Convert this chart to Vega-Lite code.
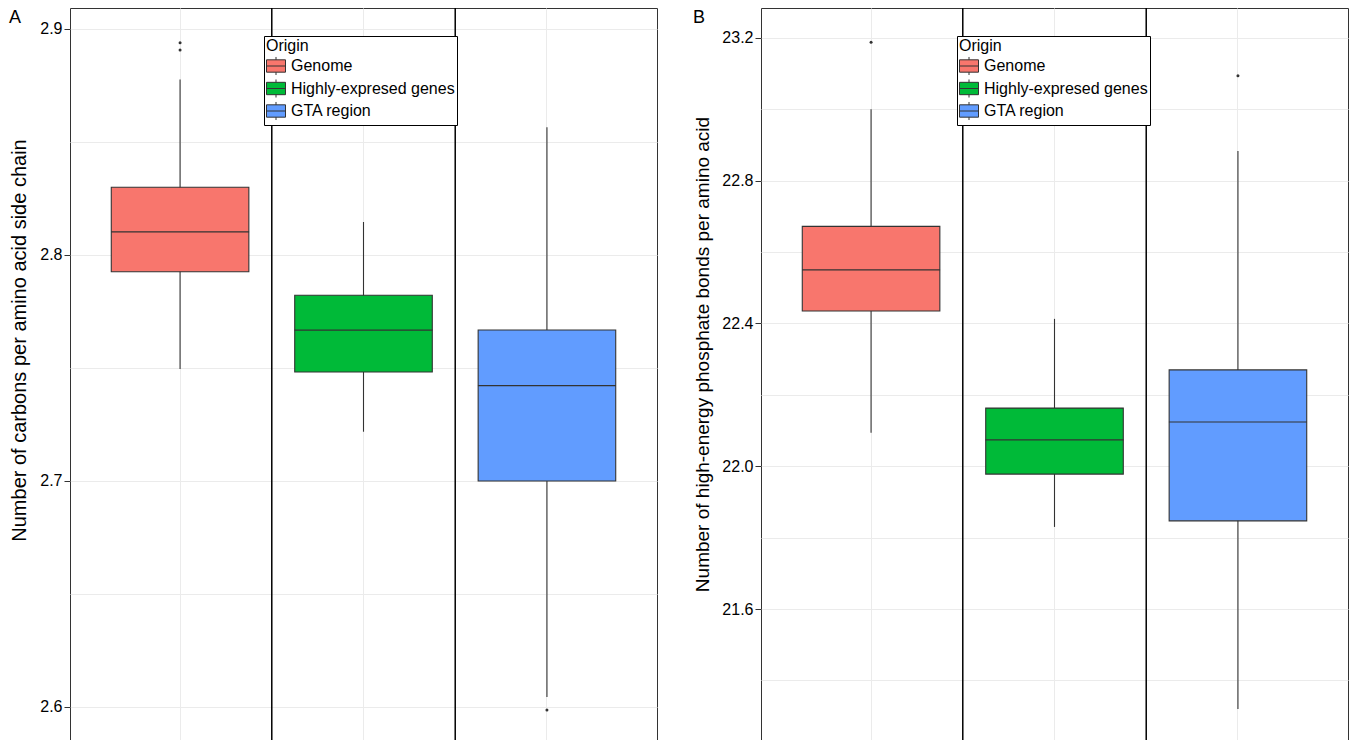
{
  "$schema": "https://vega.github.io/schema/vega-lite/v6.json",
  "padding": {"left": 8, "top": 6, "right": 0, "bottom": 0},
  "spacing": 34,
  "config": {
    "font": "Liberation Sans",
    "view": {"stroke": "#333333", "strokeWidth": 1},
    "axis": {
      "labelFontSize": 16,
      "labelColor": "#000000",
      "titleFontSize": 19,
      "titleFontWeight": "normal",
      "titleColor": "#000000",
      "tickColor": "#333333",
      "tickSize": 6,
      "labelPadding": 2,
      "gridColor": "#EBEBEB",
      "gridWidth": 1,
      "domain": false
    },
    "legend": {
      "orient": "none",
      "strokeColor": "#000000",
      "fillColor": "#FFFFFF",
      "padding": 2,
      "titleFontSize": 16,
      "titleFontWeight": "normal",
      "titleColor": "#000000",
      "titlePadding": 2,
      "labelFontSize": 16,
      "labelColor": "#000000",
      "labelOffset": 5,
      "labelLimit": 400,
      "rowPadding": -1.5,
      "symbolType": "M-1,-0.65H1V0.65H-1Z M-1,0H1 M0,-0.65V-0.95 M0,0.65V0.95",
      "symbolSize": 361,
      "symbolStrokeColor": "#333333",
      "symbolStrokeWidth": 1,
      "symbolOpacity": 1
    },
    "title": {"fontSize": 18, "fontWeight": "normal", "color": "#000000"}
  },
  "datasets": {
    "boxesA": [
      {"origin": "Genome", "lower": 2.7496, "q1": 2.7926, "median": 2.8102, "q3": 2.8300, "upper": 2.8777},
      {"origin": "Highly-expresed genes", "lower": 2.7218, "q1": 2.7482, "median": 2.7668, "q3": 2.7822, "upper": 2.8146},
      {"origin": "GTA region", "lower": 2.6044, "q1": 2.7000, "median": 2.7422, "q3": 2.7668, "upper": 2.8565}
    ],
    "outliersA": [
      {"origin": "Genome", "value": 2.8939},
      {"origin": "Genome", "value": 2.8907},
      {"origin": "GTA region", "value": 2.5987}
    ],
    "boxesB": [
      {"origin": "Genome", "lower": 22.094, "q1": 22.435, "median": 22.550, "q3": 22.672, "upper": 23.000},
      {"origin": "Highly-expresed genes", "lower": 21.830, "q1": 21.978, "median": 22.074, "q3": 22.163, "upper": 22.413},
      {"origin": "GTA region", "lower": 21.320, "q1": 21.847, "median": 22.124, "q3": 22.270, "upper": 22.883}
    ],
    "outliersB": [
      {"origin": "Genome", "value": 23.188},
      {"origin": "GTA region", "value": 23.094}
    ],
    "dividers": [
      {"origin": "Genome"},
      {"origin": "Highly-expresed genes"}
    ]
  },
  "resolve": {"legend": {"fill": "independent"}, "scale": {"y": "independent"}},
  "hconcat": [
    {
      "title": {"text": "A", "anchor": "start", "frame": "bounds", "baseline": "alphabetic", "offset": -34},
      "width": 587,
      "height": 735,
      "encoding": {
        "x": {
          "field": "origin",
          "type": "nominal",
          "sort": ["Genome", "Highly-expresed genes", "GTA region"],
          "scale": {"domain": ["Genome", "Highly-expresed genes", "GTA region"], "paddingInner": 0, "paddingOuter": 0.1},
          "axis": {"grid": true, "labels": false, "ticks": false, "domain": false, "title": null, "bandPosition": 0.5}
        }
      },
      "layer": [
        {
          "data": {"name": "dividers"},
          "mark": {"type": "rule", "color": "#000000", "strokeWidth": 1.5},
          "encoding": {"x": {"field": "origin", "type": "nominal", "bandPosition": 1}}
        },
        {
          "data": {"name": "boxesA"},
          "mark": {"type": "rule", "color": "#333333", "strokeWidth": 1.1},
          "encoding": {
            "y": {
              "field": "lower",
              "type": "quantitative",
              "scale": {"domain": [2.58407, 2.90929], "nice": false, "zero": false},
              "axis": {
                "title": "Number of carbons per amino acid side chain",
                "titleFontSize": 20,
                "values": [2.6, 2.65, 2.7, 2.75, 2.8, 2.85, 2.9],
                "labelExpr": "round(datum.value * 100) % 10 == 0 ? format(datum.value, '.1f') : ''",
                "tickOpacity": {"condition": {"test": "round(datum.value * 100) % 10 == 0", "value": 1}, "value": 0},
                "grid": true,
                "minExtent": 30,
                "maxExtent": 30,
                "titlePadding": 11,
                "titleY": 332
              }
            },
            "y2": {"field": "upper"}
          }
        },
        {
          "data": {"name": "boxesA"},
          "mark": {"type": "bar", "stroke": "#333333", "strokeWidth": 1.1, "width": {"band": 0.75}},
          "encoding": {
            "y": {"field": "q1", "type": "quantitative"},
            "y2": {"field": "q3"},
            "fill": {
              "field": "origin",
              "type": "nominal",
              "title": "Origin",
              "scale": {"domain": ["Genome", "Highly-expresed genes", "GTA region"], "range": ["#F8766D", "#00BA38", "#619CFF"]},
              "legend": {"legendX": 194, "legendY": 28}
            }
          }
        },
        {
          "data": {"name": "boxesA"},
          "mark": {"type": "tick", "color": "#333333", "thickness": 1.2, "size": 138, "opacity": 1},
          "encoding": {"y": {"field": "median", "type": "quantitative"}}
        },
        {
          "data": {"name": "outliersA"},
          "mark": {"type": "circle", "color": "#333333", "size": 9, "opacity": 1},
          "encoding": {"y": {"field": "value", "type": "quantitative"}}
        }
      ]
    },
    {
      "title": {"text": "B", "anchor": "start", "frame": "bounds", "baseline": "alphabetic", "offset": -34},
      "width": 587,
      "height": 735,
      "encoding": {
        "x": {
          "field": "origin",
          "type": "nominal",
          "sort": ["Genome", "Highly-expresed genes", "GTA region"],
          "scale": {"domain": ["Genome", "Highly-expresed genes", "GTA region"], "paddingInner": 0, "paddingOuter": 0.1},
          "axis": {"grid": true, "labels": false, "ticks": false, "domain": false, "title": null, "bandPosition": 0.5}
        }
      },
      "layer": [
        {
          "data": {"name": "dividers"},
          "mark": {"type": "rule", "color": "#000000", "strokeWidth": 1.5},
          "encoding": {"x": {"field": "origin", "type": "nominal", "bandPosition": 1}}
        },
        {
          "data": {"name": "boxesB"},
          "mark": {"type": "rule", "color": "#333333", "strokeWidth": 1.1},
          "encoding": {
            "y": {
              "field": "lower",
              "type": "quantitative",
              "scale": {"domain": [21.2246, 23.284], "nice": false, "zero": false},
              "axis": {
                "title": "Number of high-energy phosphate bonds per amino acid",
                "values": [21.4, 21.6, 21.8, 22.0, 22.2, 22.4, 22.6, 22.8, 23.0, 23.2],
                "labelExpr": "round(datum.value * 10) % 4 == 0 ? format(datum.value, '.1f') : ''",
                "tickOpacity": {"condition": {"test": "round(datum.value * 10) % 4 == 0", "value": 1}, "value": 0},
                "grid": true,
                "minExtent": 39,
                "maxExtent": 39,
                "titlePadding": 10,
                "titleY": 346
              }
            },
            "y2": {"field": "upper"}
          }
        },
        {
          "data": {"name": "boxesB"},
          "mark": {"type": "bar", "stroke": "#333333", "strokeWidth": 1.1, "width": {"band": 0.75}},
          "encoding": {
            "y": {"field": "q1", "type": "quantitative"},
            "y2": {"field": "q3"},
            "fill": {
              "field": "origin",
              "type": "nominal",
              "title": "Origin",
              "scale": {"domain": ["Genome", "Highly-expresed genes", "GTA region"], "range": ["#F8766D", "#00BA38", "#619CFF"]},
              "legend": {"legendX": 196, "legendY": 28}
            }
          }
        },
        {
          "data": {"name": "boxesB"},
          "mark": {"type": "tick", "color": "#333333", "thickness": 1.2, "size": 138, "opacity": 1},
          "encoding": {"y": {"field": "median", "type": "quantitative"}}
        },
        {
          "data": {"name": "outliersB"},
          "mark": {"type": "circle", "color": "#333333", "size": 9, "opacity": 1},
          "encoding": {"y": {"field": "value", "type": "quantitative"}}
        }
      ]
    }
  ]
}
